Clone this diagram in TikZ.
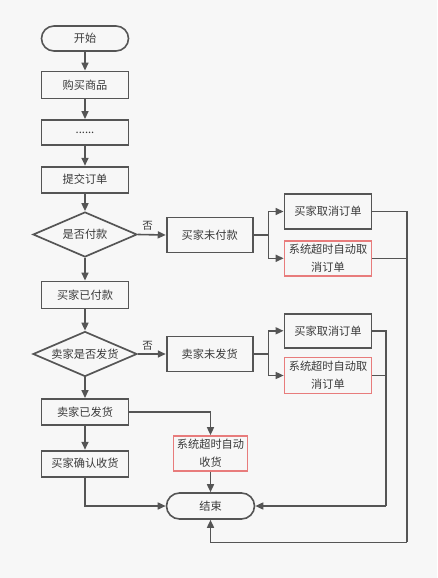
\documentclass[tikz,border=0pt]{standalone}
\usepackage{fontspec}
\setmainfont{Noto Sans CJK SC}
\usetikzlibrary{arrows.meta,shapes.geometric,calc}
\definecolor{bg}{HTML}{F7F7F7}
\definecolor{ln}{HTML}{555555}
\definecolor{rd}{HTML}{E87C7C}
\definecolor{tx}{HTML}{3A3A3A}
\begin{document}
\begin{tikzpicture}[x=1pt,y=-1pt,
  font=\fontsize{11.2}{18}\selectfont, text=tx,
  box/.style={draw=ln, line width=1.9pt, minimum width=87pt, minimum height=26pt, inner sep=0pt, align=center},
  redbox/.style={draw=rd, line width=1.7pt, minimum width=87pt, minimum height=35pt, inner sep=0pt, align=center},
  term/.style={draw=ln, line width=1.6pt, rounded corners=12.5pt, minimum width=87pt, minimum height=25pt, inner sep=0pt},
  dia/.style={draw=ln, line width=1.7pt, diamond, aspect=2.3, minimum width=104pt, minimum height=45pt, inner sep=0pt},
  conn/.style={draw=ln, line width=1.6pt},
  arr/.style={conn, -{Triangle[length=8pt,width=7pt]}}]
\fill[bg] (0,0) rectangle (437,578);
\useasboundingbox (0,0) rectangle (437,578);

\node[term] (start) at (85,38.5) {开始};
\node[box, minimum height=27pt] (buy) at (85,85) {购买商品};
\node[box, minimum height=25pt] (dots) at (85,132.5) {......};
\node[box] (submit) at (85,179.7) {提交订单};
\node[dia] (d1) at (85,234.5) {是否付款};
\node[box, minimum width=86pt, minimum height=35pt] (unpaid) at (209.7,235) {买家未付款};
\node[box, minimum height=35pt] (c1) at (328,211.5) {买家取消订单};
\node[redbox] (t1) at (328,258.3) {系统超时自动取\\消订单};
\node[box, minimum height=27pt] (paid) at (85,295) {买家已付款};
\node[dia] (d2) at (85,354) {卖家是否发货};
\node[box, minimum width=86pt, minimum height=35pt] (unship) at (209.7,354) {卖家未发货};
\node[box, minimum height=34pt] (c2) at (328,330.8) {买家取消订单};
\node[redbox, minimum height=36pt] (t2) at (328,375.5) {系统超时自动取\\消订单};
\node[box] (shipped) at (85,412) {卖家已发货};
\node[box] (confirm) at (85,463.7) {买家确认收货};
\node[redbox, minimum width=74pt] (t3) at (210.5,453.5) {系统超时自动\\收货};
\node[term, minimum width=88pt, minimum height=26pt, rounded corners=13pt] (end) at (210.5,506) {结束};

\coordinate (j1) at (268.3,235);
\coordinate (j2) at (268.3,354);
\coordinate (r1) at (406.7,542.3);
\coordinate (r2) at (385.7,506);

\draw[arr] (start) -- (buy);
\draw[arr] (buy) -- (dots);
\draw[arr] (dots) -- (submit);
\draw[arr] (submit) -- (d1);
\draw[arr] (d1) -- (paid);
\draw[arr] (paid) -- (d2);
\draw[arr] (d2) -- (shipped);
\draw[arr] (shipped) -- (confirm);

\draw[arr] (d1.east) -- node[pos=0.35, above, font=\fontsize{10.5}{12}\selectfont] (no1) {否} (unpaid.west);
\draw[arr] (d2.east) -- node[pos=0.35, above, font=\fontsize{10.5}{12}\selectfont] (no2) {否} (unship.west);

\draw[conn] (unpaid.east) -- (j1);
\draw[arr] (j1) |- (c1.west);
\draw[arr] (j1) |- (t1.west);
\draw[conn] (unship.east) -- (j2);
\draw[arr] (j2) |- (c2.west);
\draw[arr] (j2) |- (t2.west);

\draw[conn] (c1.east) -| (r1);
\draw[conn] (t1.east) -- (t1.east -| r1);
\draw[arr] (r1) -| (end.south);
\draw[conn] (c2.east) -| (r2);
\draw[conn] (t2.east) -- (t2.east -| r2);
\draw[arr] (r2) -- (end.east);

\draw[arr] (shipped.east) -| (t3.north);
\draw[arr] (t3.south) -- (end.north);
\draw[arr] (confirm.south) |- (end.west);
\end{tikzpicture}
\end{document}
